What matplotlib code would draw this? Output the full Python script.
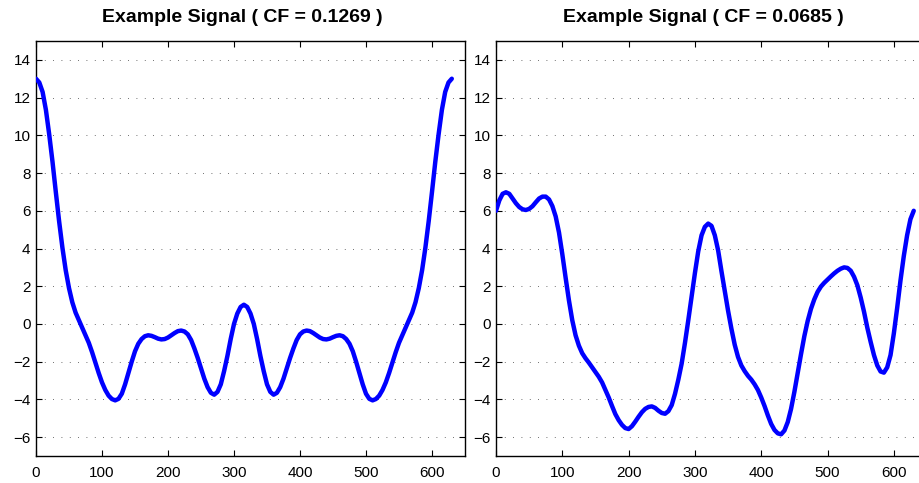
"""Two example signals with their crest factor."""
import matplotlib
matplotlib.use("Agg")
import matplotlib.pyplot as plt

plt.rcParams['font.family'] = ['Liberation Sans', 'DejaVu Sans']

# sample positions, every 5 units
sample_x = list(range(0, 631, 5))

# left signal
left_y = [13.0, 12.8, 12.3, 11.35, 10.05, 8.6, 7.0, 5.45, 4.05, 2.85, 1.9,
          1.15, 0.6, 0.2, -0.2, -0.6, -1.0, -1.5, -2.05, -2.6, -3.1, -3.5,
          -3.8, -3.98, -4.05, -3.97, -3.7, -3.2, -2.6, -2.0, -1.45, -1.05,
          -0.8, -0.65, -0.6, -0.63, -0.7, -0.78, -0.82, -0.8, -0.72, -0.6,
          -0.48, -0.38, -0.35, -0.4, -0.55, -0.85, -1.3, -1.8, -2.35, -2.9,
          -3.35, -3.65, -3.75, -3.6, -3.2, -2.5, -1.7, -0.8, 0.0, 0.55, 0.9,
          1.02,
          0.9, 0.55, 0.0, -0.8, -1.7, -2.5, -3.2, -3.6, -3.75, -3.65, -3.35,
          -2.9, -2.35, -1.8, -1.3, -0.85, -0.55, -0.4, -0.35, -0.38, -0.48,
          -0.6, -0.72, -0.8, -0.82, -0.78, -0.7, -0.63, -0.6, -0.65, -0.8,
          -1.05, -1.45, -2.0, -2.6, -3.2, -3.7, -3.97, -4.05, -3.98, -3.8,
          -3.5, -3.1, -2.6, -2.05, -1.5, -1.0, -0.6, -0.2, 0.2, 0.6, 1.15, 1.9,
          2.85, 4.05, 5.45, 7.0, 8.6, 10.05, 11.35, 12.3, 12.8, 13.0]

# right signal
right_y = [6.0, 6.55, 6.9, 6.98, 6.9, 6.65, 6.4, 6.2, 6.08, 6.04, 6.1, 6.24,
           6.45, 6.65, 6.75, 6.75, 6.6, 6.25, 5.7, 4.85, 3.7, 2.45, 1.25, 0.2,
           -0.6, -1.15, -1.55, -1.82, -2.05, -2.3, -2.55, -2.8, -3.1, -3.5,
           -3.9, -4.35, -4.78, -5.1, -5.35, -5.52, -5.57, -5.42, -5.18, -4.92,
           -4.68, -4.5, -4.4, -4.37, -4.45, -4.6, -4.72, -4.76, -4.62, -4.3,
           -3.7, -2.95, -2.1, -1.0, 0.2, 1.45, 2.7, 3.85, 4.7, 5.15, 5.32, 5.2,
           4.7, 3.9, 2.8, 1.75, 0.7, -0.25, -1.1, -1.75, -2.2, -2.5, -2.75,
           -2.95, -3.2, -3.5, -3.9, -4.35, -4.85, -5.3, -5.62, -5.8, -5.85,
           -5.65, -5.2, -4.5, -3.6, -2.6, -1.6, -0.65, 0.15, 0.8, 1.3, 1.7,
           1.98, 2.18, 2.35, 2.52, 2.68, 2.82, 2.93, 3.0, 2.97, 2.82, 2.5, 2.05,
           1.4, 0.65, -0.2, -0.95, -1.65, -2.2, -2.52, -2.58, -2.3, -1.65,
           -0.5, 0.85, 2.3, 3.6, 4.7, 5.55, 6.0]

titles = ['Example Signal ( CF = 0.1269 )', 'Example Signal ( CF = 0.0685 )']
x_ticks = [0, 100, 200, 300, 400, 500, 600]
y_ticks = [-6, -4, -2, 0, 2, 4, 6, 8, 10, 12, 14]

W, H = 920, 483
fig = plt.figure(figsize=(W / 100, H / 100), dpi=100)
ax1 = fig.add_axes([36 / W, 27 / H, 429 / W, 415 / H])
ax2 = fig.add_axes([496 / W, 27 / H, 431 / W, 415 / H])

for ax, ys, title in [(ax1, left_y, titles[0]), (ax2, right_y, titles[1])]:
    ax.plot(sample_x, ys, color=(0, 0, 1), lw=3.2, solid_capstyle='round',
            solid_joinstyle='round', zorder=3)
    ax.set_xlim(0, 650)
    ax.set_ylim(-7, 15)
    ax.set_xticks(x_ticks)
    ax.set_yticks(y_ticks)
    ax.grid(axis='y', color='0.25', linestyle=(0, (1, 9)), linewidth=0.6)
    ax.tick_params(direction='in', top=True, right=True, length=4,
                   width=0.8, labelsize=11, colors='black')
    ax.tick_params(axis='x', pad=7)
    ax.tick_params(axis='y', pad=4)
    for sp in ax.spines.values():
        sp.set_linewidth(1.0)
    ax.set_title(title, fontsize=14, fontweight='bold', x=0.48, pad=14)

fig.savefig('out.png', dpi=100)
